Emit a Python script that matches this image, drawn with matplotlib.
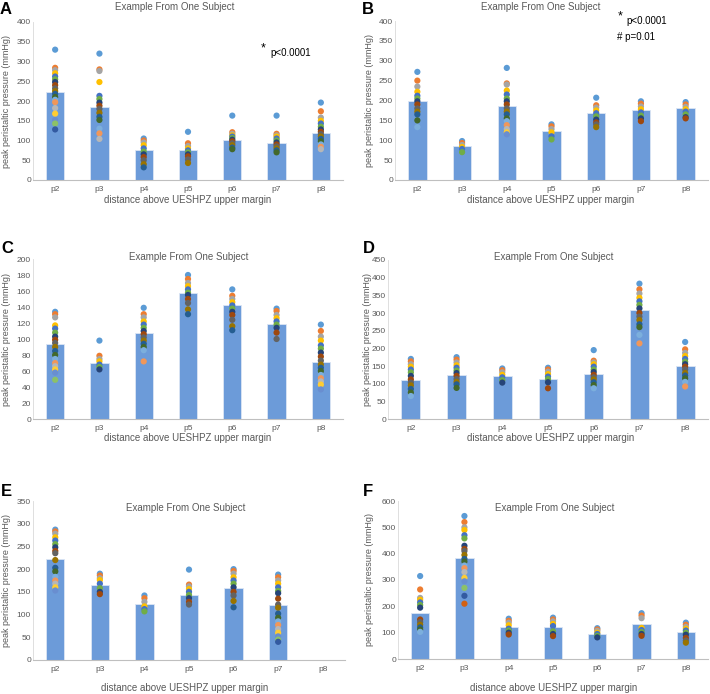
import numpy as np
import matplotlib.pyplot as plt

plt.rcParams['font.family'] = ['Liberation Sans', 'DejaVu Sans']

cats = ['p2', 'p3', 'p4', 'p5', 'p6', 'p7', 'p8']

# excel-like series colours, one per swallow
dot_colors = ['#5B9BD5', '#ED7D31', '#A5A5A5', '#FFC000', '#4472C4', '#70AD47',
              '#264478', '#9E480E', '#636363', '#997300', '#255E91', '#43682B',
              '#7CAFDD', '#F1975A', '#B7B7B7', '#FFCD33', '#698ED0', '#8CC168',
              '#335AA1', '#D26012', '#848484', '#CC9A00']

# panel A
a_means = [222, 184, 76, 75, 101, 94, 120]
a_points = [
    [330, 284, 278, 270, 262, 255, 248, 240, 232, 225, 218, 210, 203, 197, 182, 168, 152, 143, 128],
    [320, 280, 276, 248, 213, 205, 196, 188, 180, 170, 160, 152, 130, 118, 104],
    [105, 100, 95, 88, 80, 72, 65, 58, 50, 40, 32],
    [122, 93, 86, 80, 75, 70, 65, 60, 52, 43],
    [163, 121, 117, 113, 110, 106, 102, 98, 93, 88, 82, 78],
    [163, 117, 113, 110, 105, 100, 95, 90, 85, 80, 75, 70],
    [196, 174, 158, 150, 143, 135, 128, 122, 116, 110, 104, 98, 90, 84, 78],
]
# panel B
b_means = [200, 85, 185, 123, 168, 177, 180]
b_points = [
    [272, 250, 235, 222, 212, 205, 198, 190, 180, 172, 165, 150, 133],
    [98, 93, 88, 83, 78, 70],
    [282, 243, 240, 225, 215, 205, 198, 190, 180, 172, 165, 155, 148, 138, 128, 120, 115],
    [140, 135, 128, 120, 110, 102],
    [207, 188, 182, 175, 168, 160, 152, 145, 140, 133],
    [198, 192, 185, 178, 170, 162, 155, 148],
    [196, 190, 184, 178, 172, 165, 158, 155],
]
# panel C
c_means = [94, 70, 107, 157, 142, 119, 71]
c_points = [
    [134, 131, 127, 117, 113, 108, 103, 99, 95, 90, 85, 80, 75, 70, 66, 62, 58, 49],
    [98, 79, 75, 72, 68, 65, 62],
    [139, 131, 127, 122, 118, 114, 110, 106, 102, 98, 94, 90, 86, 72],
    [180, 175, 170, 166, 162, 158, 155, 150, 145, 137, 131],
    [162, 154, 150, 146, 142, 138, 134, 130, 124, 116, 111],
    [138, 135, 130, 126, 122, 118, 114, 108, 100],
    [118, 110, 103, 98, 92, 88, 83, 78, 73, 68, 64, 60, 55, 51, 47, 43, 37],
]
# panel D
d_means = [110, 125, 122, 114, 127, 308, 151]
d_points = [
    [170, 163, 155, 148, 140, 132, 122, 112, 103, 95, 85, 75, 65],
    [175, 168, 160, 152, 145, 137, 130, 122, 113, 105, 98, 88],
    [143, 138, 132, 125, 118, 110, 103],
    [145, 140, 134, 127, 120, 113, 104, 87],
    [195, 165, 160, 155, 148, 140, 133, 125, 118, 112, 104, 96, 87],
    [383, 367, 355, 343, 333, 323, 313, 300, 290, 280, 268, 260, 238, 214],
    [218, 197, 187, 178, 170, 162, 155, 148, 140, 130, 123, 115, 105, 92],
]
# panel E (no p8 data)
e_means = [223, 166, 124, 142, 159, 121, np.nan]
e_points = [
    [287, 283, 278, 270, 263, 255, 248, 240, 235, 220, 203, 195, 183, 175, 168, 160, 153],
    [190, 186, 180, 176, 168, 158, 150, 145],
    [142, 136, 128, 118, 112, 107],
    [199, 166, 162, 156, 150, 143, 136, 128, 122],
    [200, 196, 190, 182, 175, 168, 160, 150, 142, 130, 116],
    [188, 182, 175, 168, 160, 152, 147, 135, 122, 115, 102, 93, 85, 77, 68, 60, 52, 45, 40],
    [],
]
# panel F
f_means = [174, 384, 123, 121, 96, 134, 103]
f_points = [
    [315, 264, 232, 225, 215, 205, 195, 150, 140, 130, 120, 112, 103],
    [543, 520, 500, 490, 470, 458, 430, 418, 410, 395, 380, 370, 355, 345, 330, 308, 295, 270, 240, 210],
    [153, 145, 138, 128, 115, 108, 100, 93],
    [157, 150, 143, 133, 125, 105, 95, 87],
    [117, 112, 107, 100, 95, 88, 82],
    [174, 165, 155, 118, 110, 102, 95, 88],
    [138, 130, 122, 115, 108, 100, 92, 80, 70, 62],
]

W, H = 710, 694
grey = '#595959'
fig = plt.figure(figsize=(W / 100, H / 100), dpi=100)


def fx(x):
    return x / W


def fy(y):
    return 1 - y / H


def panel(box, means, points, ymax, ystep, letter, letter_x, letter_y,
          title_x, title_y, xlab_x, xlab_y, ylab_x):
    left, top, right, bottom = box
    ax = fig.add_axes([fx(left), fy(bottom), (right - left) / W, (bottom - top) / H])
    x = np.arange(len(cats))
    ax.bar(x, means, width=0.41, color='#6C9BD9', edgecolor='#DCE6F4',
           linewidth=0.6, zorder=1)
    for i, vals in enumerate(points):
        cols = [dot_colors[k % len(dot_colors)] for k in range(len(vals))]
        ax.scatter([i] * len(vals), vals, s=20, c=cols, linewidths=0, zorder=2)
    ax.set_xlim(-0.5, len(cats) - 0.5)
    ax.set_ylim(0, ymax)
    ax.set_yticks(np.arange(0, ymax + 1, ystep))
    ax.set_xticks(x)
    ax.set_xticklabels(cats)
    ax.tick_params(labelsize=6, colors=grey, length=0)
    ax.tick_params(axis='y', pad=1.5)
    ax.tick_params(axis='x', pad=4)
    for s in ['top', 'right']:
        ax.spines[s].set_visible(False)
    ax.spines['left'].set_color('#D9D9D9')
    ax.spines['bottom'].set_color('#BFBFBF')
    ax.spines['left'].set_linewidth(0.6)
    ax.spines['bottom'].set_linewidth(0.8)
    fig.text(fx(title_x), fy(title_y), 'Example From One Subject', fontsize=7,
             color=grey, ha='center', va='center')
    fig.text(fx(letter_x), fy(letter_y), letter, fontsize=12, fontweight='bold',
             ha='left', va='center')
    fig.text(fx(xlab_x), fy(xlab_y), 'distance above UESHPZ upper margin',
             fontsize=7, color=grey, ha='center', va='center')
    fig.text(fx(ylab_x), fy((top + bottom) / 2), 'peak peristaltic pressure (mmHg)',
             fontsize=6.5, color=grey, ha='center', va='center', rotation=90)
    return ax


panel((33, 22, 343, 180), a_means, a_points, 400, 50, 'A', 0, 9, 175, 7, 188, 200, 7)
panel((395, 21, 708, 180), b_means, b_points, 400, 50, 'B', 362, 9, 541, 7, 551, 200, 370)
panel((33, 259, 343, 419), c_means, c_points, 200, 20, 'C', 1, 248, 189, 257, 188, 438, 7)
panel((388, 260, 708, 419), d_means, d_points, 450, 50, 'D', 363, 248, 554, 257, 551, 438, 368)
panel((33, 501, 345, 660), e_means, e_points, 350, 50, 'E', 1, 492, 186, 508, 185, 688, 7)
panel((398, 501, 708, 659), f_means, f_points, 600, 100, 'F', 363, 492, 555, 508, 554, 688, 370)

# significance notes
fig.text(fx(263), fy(48), '*', fontsize=9, ha='center', va='center')
fig.text(fx(270), fy(53), 'p<0.0001', fontsize=7, ha='left', va='center')
fig.text(fx(620), fy(16), '*', fontsize=9, ha='center', va='center')
fig.text(fx(626), fy(21), 'p<0.0001', fontsize=7, ha='left', va='center')
fig.text(fx(617), fy(37), '# p=0.01', fontsize=7, ha='left', va='center')

plt.savefig('out.png', dpi=100)
